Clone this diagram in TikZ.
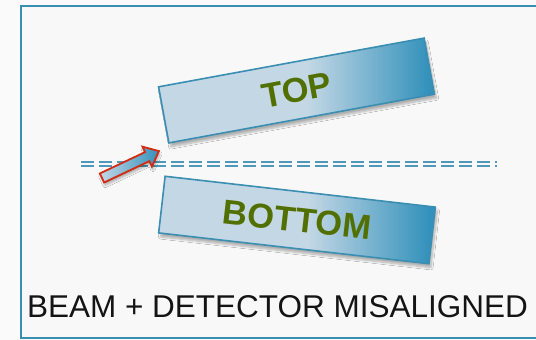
\documentclass[tikz,border=0pt]{standalone}
\usepackage{fontspec}
\setmainfont{Liberation Sans}
\usetikzlibrary{shadows.blur}

\definecolor{frameblue}{HTML}{3A8EB2}
\definecolor{boxlight}{HTML}{C3D7E5}
\definecolor{boxdark}{HTML}{3391BB}
\definecolor{labelgreen}{HTML}{527000}
\definecolor{arrowred}{HTML}{D42A12}
\definecolor{paper}{HTML}{F8F8F8}

\pgfdeclarehorizontalshading{plateshade}{100bp}{color(0bp)=(boxlight); color(52bp)=(boxlight); color(74bp)=(boxdark); color(100bp)=(boxdark)}

\tikzset{
  plate/.style={draw=frameblue, line width=1.6pt, shading=plateshade,
    minimum width=270pt, minimum height=57pt, inner sep=0pt,
    blur shadow={shadow xshift=2pt, shadow yshift=-4pt, shadow blur steps=8, shadow opacity=30},
    text=labelgreen, font=\fontsize{34.5}{40}\selectfont\bfseries},
  beam/.style={draw=frameblue!90, line width=1.7pt, double=paper, double distance=2pt,
    dash pattern=on 13pt off 5pt}
}

\begin{document}
\begin{tikzpicture}[x=1pt,y=1pt]

\useasboundingbox (0,0) rectangle (536,340);
\fill[gray!4] (0,0) rectangle (536,340);
\fill[paper] (21,2) rectangle (545,334);
\draw[frameblue, line width=2.4pt] (545,334) -- (21,334) -- (21,2) -- (545,2);

% beam line
\coordinate (B1) at (81,176);
\coordinate (B2) at (497,176);
\draw[beam] (B1) -- (B2);

% detector plates
\node[plate, rotate=10.4] (top) at (296.5,249.5) {TOP};
\node[plate, rotate=-6.5, minimum width=272pt] (bottom) at (297,120) {BOTTOM};

% incoming beam arrow
\begin{scope}[shift={(102,162)}, rotate=25.3]
\shade[left color=boxlight, right color=boxdark, draw=arrowred, line width=1.8pt,
  line join=miter,
  blur shadow={shadow xshift=1pt, shadow yshift=-3pt, shadow blur steps=6, shadow opacity=30}]
  (0,-5) -- (50,-5) -- (50,-11) -- (63,0) -- (50,11) -- (50,5) -- (0,5) -- cycle;
\end{scope}

\node[font=\fontsize{31.5}{36}\selectfont, text=black!92] (caption) at (277.5,33) {BEAM + DETECTOR MISALIGNED};

\end{tikzpicture}
\end{document}
